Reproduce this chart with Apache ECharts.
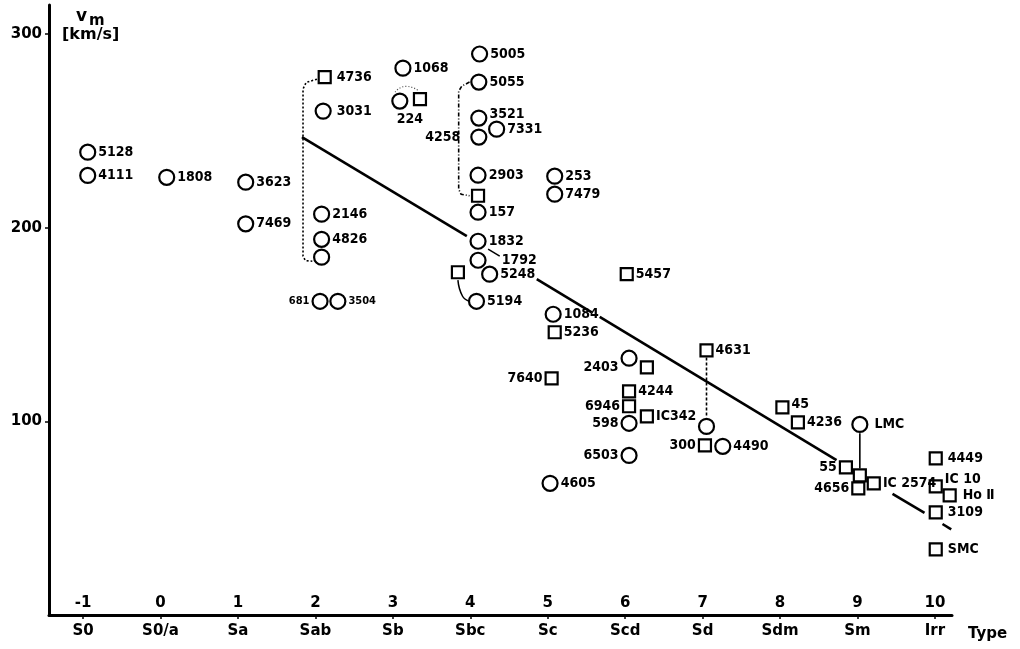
<!DOCTYPE html>
<html><head><meta charset="utf-8">
<script src="https://cdn.jsdelivr.net/npm/echarts@6/dist/echarts.min.js"></script>
<style>html,body{margin:0;padding:0;background:#fff}#c{width:1020px;height:649px}</style>
</head><body><div id="c"></div>
<script>
// ---------- data ----------
const typeTicks = [-1,0,1,2,3,4,5,6,7,8,9,10];
const typeNames = ['S0','S0/a','Sa','Sab','Sb','Sbc','Sc','Scd','Sd','Sdm','Sm','Irr'];
const vmTicks = [100,200,300];

const galaxyNames  = ['5128','4111','1808','3623','7469','4736','3031','2146','4826','','681','3504',
  '1068','224','','5005','5055','3521','4258','7331','2903','','157','253','7479','1832','1792','5248','','5194',
  '1084','5236','5457','7640','2403','','4631','4244','6946','598','IC342','6503','4605','','300','4490',
  '45','4236','LMC','55','','4656','IC 2574','4449','IC 10','Ho Ⅱ','3109','SMC'];
const galaxyType   = [-0.94,-0.94,0.08,1.10,1.10,2.12,2.10,2.08,2.08,2.08,2.06,2.29,
  3.13,3.09,3.35,4.12,4.11,4.11,4.11,4.34,4.10,4.10,4.10,5.09,5.09,4.10,4.10,4.25,3.84,4.08,
  5.07,5.09,6.02,5.05,6.05,6.28,7.05,6.05,6.05,6.05,6.28,6.05,5.03,7.05,7.03,7.26,
  8.03,8.23,9.03,8.85,9.03,9.01,9.21,10.01,10.01,10.19,10.01,10.01];
const galaxyVm     = [239,227,226,223.5,202,277.8,260.2,207,194,184.8,162,162,
  282.4,265.4,266.4,289.7,275.2,256.6,246.8,250.9,227.1,216.5,208,226.6,217.3,193,183.2,176,177,162,
  155.3,146,176,122.2,132.6,127.9,136.7,115.5,107.8,99,102.6,82.4,68,97.4,87.6,87.1,
  107.2,99.5,98.4,76.2,72.1,65.4,68,80.9,66.4,61.8,53,33.9];
const galaxyMarker = ['o','o','o','o','o','s','o','o','o','o','o','o',
  'o','o','s','o','o','o','o','o','o','s','o','o','o','o','o','o','s','o',
  'o','s','s','s','o','s','s','s','s','o','s','o','o','o','s','o',
  's','s','o','s','s','s','s','s','s','s','s','s'];

// fitted relation, drawn in pieces (broken at labels)
const fitSegments = [
  [[1.826,246.8],[3.955,195.7]],
  [[4.858,173.5],[5.568,156.3]],
  [[5.671,153.9],[8.729,80.0]],
  [[9.452,62.6],[9.865,52.7]],
  [[10.097,47.0],[10.21,44.2]]
];
const bracketSab = [[2.02,276.7],[1.88,275],[1.84,271.6],[1.84,185.3],[1.87,183],[1.96,182.7]];
const bracketSbc = [[3.99,275.2],[3.89,273.1],[3.85,270.5],[3.85,219.9],[3.88,217.3],[3.99,216.5]];
const link4631 = [[7.05,133],[7.05,102]];
const linkLMC = [[9.03,93.8],[9.03,75.7]];
const link5194 = [[3.84,172.9],[3.90,164.6],[3.99,162]];
const leader1792 = [[4.23,188.9],[4.38,185.3]];
const arc224 = [[3.03,270],[3.17,273],[3.32,271]];

// ---------- label styling ----------
const leftLabels = ['681','4258','7640','2403','6946','598','6503','300','55','4656'];
const labelShift = {'3521':[0,-4],'45':[0,-3],'IC 10':[0,-7],'2403':[0,9]};
const labelGap = {'1792':15,'LMC':6,'4449':5,'Ho Ⅱ':6,'3109':5,'SMC':5,'4258':10,'3031':5,'4736':5};
const smallLabels = ['681','3504'];
const FONT = "'DejaVu Sans Condensed','Liberation Sans Narrow',sans-serif";
const INK = '#000';

function item(i){
  const n = galaxyNames[i];
  const lab = {show: n !== '', position: leftLabels.includes(n) ? 'left' : 'right',
    distance: labelGap[n] || 2, offset: labelShift[n] || [0,0]};
  if (n === '224') { lab.position = 'bottom'; lab.distance = 3; lab.offset = [10,0]; }
  if (smallLabels.includes(n)) { lab.fontSize = 11; }
  return {name: n, value: [galaxyType[i], galaxyVm[i]], label: lab};
}
const circ = [], sq = [];
galaxyNames.forEach((n,i)=>{ (galaxyMarker[i]==='o'?circ:sq).push(item(i)); });

function lineSeries(data, style){
  return {type:'line', data, symbol:'none', silent:true, z:2, animation:false,
    lineStyle:Object.assign({color:INK, width:1.5, opacity:1}, style)};
}
const series = [];
fitSegments.forEach(s => series.push(lineSeries(s, {width:2.6})));
series.push(lineSeries(bracketSab, {type:[2,2], width:1.6}));
series.push(lineSeries(bracketSbc, {type:[4,2,1,2], width:1.6}));
series.push(lineSeries(link4631, {type:[3,2], width:1.6}));
series.push(lineSeries(linkLMC, {width:1.6}));
series.push(Object.assign(lineSeries(link5194, {width:1.5}), {smooth:0.5}));
series.push(lineSeries(leader1792, {width:1.5}));
series.push(Object.assign(lineSeries(arc224, {type:[1,2], width:1.2, color:'#555'}), {smooth:0.6}));

const labelCommon = {formatter:'{b}', color:INK, opacity:1, fontFamily:FONT, fontWeight:'bold', fontSize:14};
series.push({type:'scatter', data:circ, symbol:'circle', symbolSize:15, z:5, animation:false,
  itemStyle:{color:'#fff', borderColor:INK, borderWidth:2.2, opacity:1}, label:labelCommon});
series.push({type:'scatter', data:sq, symbol:'rect', symbolSize:12, z:5, animation:false,
  itemStyle:{color:'#fff', borderColor:INK, borderWidth:2.2, opacity:1}, label:labelCommon});

const axisFont = {color:INK, fontFamily:"'DejaVu Sans',sans-serif", fontWeight:'bold', fontSize:15};
const chart = echarts.init(document.getElementById('c'), null, {renderer:'canvas'});
chart.setOption({
  backgroundColor:'#fff',
  animation:false,
  grid:{left:49, right:68, top:5, bottom:34},
  xAxis:[
    {type:'value', min:-1.44, max:10.22, position:'bottom',
     axisLine:{onZero:false, lineStyle:{color:INK, width:3}},
     axisTick:{show:true, customValues:typeTicks, length:4, lineStyle:{color:INK, width:1.5}},
     axisLabel:Object.assign({inside:true, customValues:typeTicks, margin:4}, axisFont),
     splitLine:{show:false}},
    {type:'value', min:-1.44, max:10.22, position:'bottom', offset:0,
     axisLine:{show:false}, axisTick:{show:false},
     axisLabel:Object.assign({customValues:typeTicks, margin:9,
        formatter:v => typeNames[Math.round(v)+1]}, axisFont),
     splitLine:{show:false}}
  ],
  yAxis:{type:'value', min:0, max:315,
    axisLine:{show:true, onZero:false, lineStyle:{color:INK, width:3}},
    axisTick:{show:true, customValues:vmTicks, length:4, lineStyle:{color:INK, width:1.5}},
    axisLabel:Object.assign({customValues:vmTicks, margin:7}, axisFont),
    splitLine:{show:false}},
  graphic:[
    {type:'text', left:76, top:8, style:{text:'v', font:"bold 17px 'DejaVu Sans'", fill:INK}},
    {type:'text', left:89, top:14, style:{text:'m', font:"bold 15px 'DejaVu Sans'", fill:INK}},
    {type:'text', left:62, top:27, style:{text:'[km/s]', font:"bold 16px 'DejaVu Sans'", fill:INK}},
    {type:'text', left:968, top:627, style:{text:'Type', font:"bold 15px 'DejaVu Sans'", fill:INK}}
  ],
  series
});
</script></body></html>
